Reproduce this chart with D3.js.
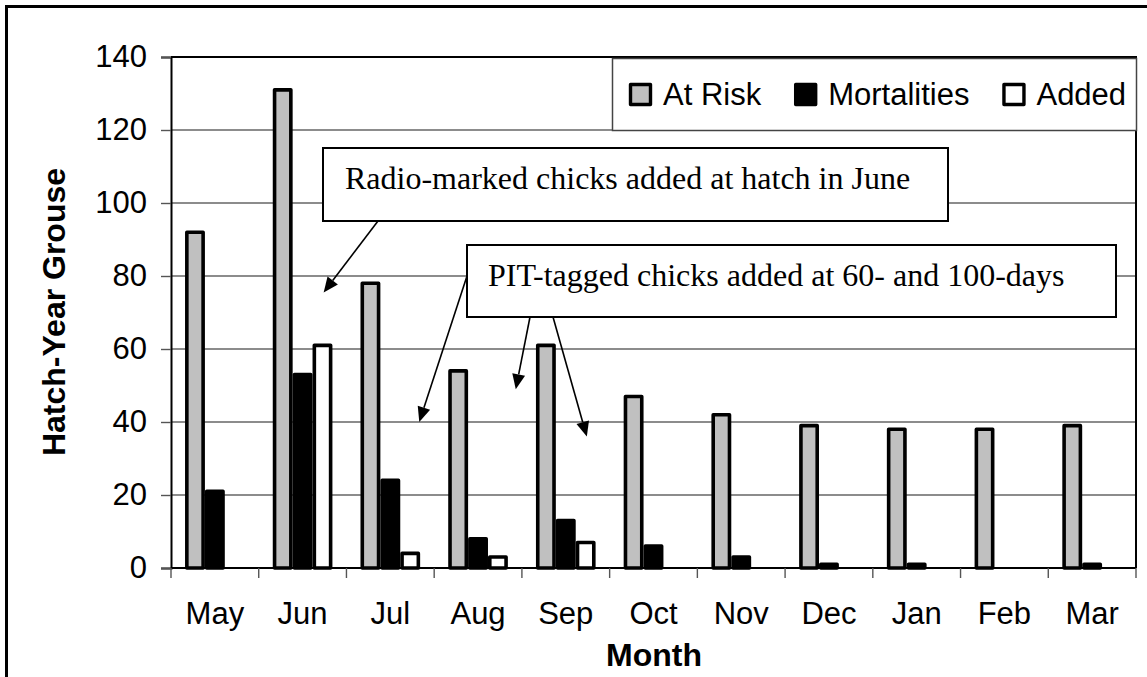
<!DOCTYPE html>
<html>
<head>
<meta charset="utf-8">
<script src="https://cdn.jsdelivr.net/npm/d3@7"></script>
<style>
  html, body { margin: 0; padding: 0; background: #fff; }
  svg { display: block; }
</style>
</head>
<body>
<svg id="chart" width="1147" height="677"></svg>
<script>
// hatch-year grouse by month
const months = ["May", "Jun", "Jul", "Aug", "Sep", "Oct", "Nov", "Dec", "Jan", "Feb", "Mar"];
const seriesNames = ["At Risk", "Mortalities", "Added"];
const atRisk = [92, 131, 78, 54, 61, 47, 42, 39, 38, 38, 39];
const mortalities = [21, 53, 24, 8, 13, 6, 3, 1, 1, 0, 1];
const added = [0, 61, 4, 3, 7, 0, 0, 0, 0, 0, 0];
const yTicks = [0, 20, 40, 60, 80, 100, 120, 140];

// callout boxes: text + where the arrows point (month, offset in band steps, value)
const notes = [
  "Radio-marked chicks added at hatch in June",
  "PIT-tagged chicks added at 60- and 100-days"
];
const arrowTargets = [
  { note: 0, month: "Jun", off: 0.58, value: 75.5 },
  { note: 1, month: "Jul", off: 0.67, value: 40 },
  { note: 1, month: "Aug", off: 0.77, value: 49 },
  { note: 1, month: "Sep", off: 0.58, value: 36 }
];

const svg = d3.select("#chart");
const W = 1147, H = 677;
const plot = { left: 171, right: 1136, top: 57, bottom: 568 };
const sans = "'Liberation Sans', Arial, sans-serif";
const serif = "'Liberation Serif', 'Times New Roman', serif";

svg.append("rect").attr("width", W).attr("height", H).attr("fill", "#fff");
// outer frame (runs off right and bottom of the picture)
svg.append("rect")
  .attr("x", 6.5).attr("y", 6.5)
  .attr("width", 1200).attr("height", 800)
  .attr("fill", "none").attr("stroke", "#000").attr("stroke-width", 3);

const y = d3.scaleLinear().domain([0, 140]).range([plot.bottom, plot.top]);
const x0 = d3.scaleBand().domain(months)
  .range([plot.left, plot.right])
  .paddingInner(0.32).paddingOuter(0.16);
const x1 = d3.scaleBand().domain(seriesNames).range([0, x0.bandwidth()]);

// gridlines
svg.append("g").selectAll("line")
  .data(yTicks.filter(d => d > 0 && d < 140))
  .join("line")
  .attr("x1", plot.left).attr("x2", plot.right)
  .attr("y1", d => y(d)).attr("y2", d => y(d))
  .attr("stroke", "#666").attr("stroke-width", 1.4);

// plot frame top / right
svg.append("path")
  .attr("d", `M${plot.left},${plot.top}H${plot.right}V${plot.bottom}`)
  .attr("fill", "none").attr("stroke", "#000").attr("stroke-width", 2);

// bars
const rows = months.map((m, i) => ({
  month: m,
  vals: [
    { s: "At Risk", v: atRisk[i], fill: "#c0c0c0" },
    { s: "Mortalities", v: mortalities[i], fill: "#000" },
    { s: "Added", v: added[i], fill: "#fff" }
  ]
}));
const sw = 3.6;
svg.append("g").selectAll("g")
  .data(rows)
  .join("g")
  .attr("transform", d => `translate(${x0(d.month)},0)`)
  .selectAll("rect")
  .data(d => d.vals.filter(b => b.v > 0))
  .join("rect")
  .attr("x", d => x1(d.s) + sw / 2)
  .attr("width", x1.bandwidth() - sw)
  .attr("y", d => y(d.v))
  .attr("height", d => y(0) - y(d.v))
  .attr("fill", d => d.fill)
  .attr("stroke", "#000")
  .attr("stroke-width", sw)
  .attr("stroke-linejoin", "round");

// y axis
const yAxis = svg.append("g")
  .attr("transform", `translate(${plot.left},0)`)
  .call(d3.axisLeft(y).tickValues(yTicks).tickSize(10).tickPadding(14));
yAxis.select(".domain").attr("stroke", "#000").attr("stroke-width", 2);
yAxis.selectAll(".tick line").attr("stroke", "#555").attr("stroke-width", 1.4);
yAxis.selectAll(".tick text")
  .attr("font-family", sans).attr("font-size", 31).attr("fill", "#000");

// x axis, ticks at band boundaries
const xAxis = svg.append("g")
  .attr("transform", `translate(0,${plot.bottom})`);
xAxis.append("line")
  .attr("x1", plot.left).attr("x2", plot.right)
  .attr("stroke", "#000").attr("stroke-width", 2);
const step = x0.step();
const edges = months.map(m => x0(m) - (step - x0.bandwidth()) / 2).concat([plot.right]);
xAxis.selectAll("line.tk")
  .data(edges)
  .join("line")
  .attr("class", "tk")
  .attr("x1", d => d).attr("x2", d => d)
  .attr("y1", 0).attr("y2", 10)
  .attr("stroke", "#555").attr("stroke-width", 1.4);
xAxis.selectAll("text")
  .data(months)
  .join("text")
  .attr("x", d => x0(d) + x0.bandwidth() / 2)
  .attr("y", 56)
  .attr("text-anchor", "middle")
  .attr("font-family", sans).attr("font-size", 31)
  .text(d => d);

// axis titles
svg.append("text")
  .attr("transform", "translate(65,312) rotate(-90)")
  .attr("text-anchor", "middle")
  .attr("font-family", sans).attr("font-size", 32).attr("font-weight", "bold")
  .text("Hatch-Year Grouse");
svg.append("text")
  .attr("x", 654).attr("y", 666)
  .attr("text-anchor", "middle")
  .attr("font-family", sans).attr("font-size", 32).attr("font-weight", "bold")
  .text("Month");

// legend
const leg = svg.append("g");
leg.append("rect")
  .attr("x", 612.5).attr("y", 58.5).attr("width", 524).attr("height", 72)
  .attr("fill", "#fff").attr("stroke", "#444").attr("stroke-width", 1.5);
const legFill = { "At Risk": "#c0c0c0", "Mortalities": "#000", "Added": "#fff" };
let lx = 629;
seriesNames.forEach(s => {
  leg.append("rect")
    .attr("x", lx + 1.5).attr("y", 84.5).attr("width", 20).attr("height", 20)
    .attr("fill", legFill[s]).attr("stroke", "#000").attr("stroke-width", 3.4)
    .attr("stroke-linejoin", "round");
  const t = leg.append("text")
    .attr("x", lx + 34).attr("y", 105)
    .attr("font-family", sans).attr("font-size", 31)
    .text(s);
  lx += 34 + t.node().getComputedTextLength() + 33;
});

// callout boxes
const boxes = [
  { x: 323, y: 148, w: 625, h: 73, tx: 345, ty: 189 },
  { x: 467, y: 245, w: 649, h: 72, tx: 488, ty: 286 }
];
const tails = [[378, 221], [467, 276], [530, 317], [553, 317]];

arrowTargets.forEach((a, i) => {
  const tx = x0(a.month) + a.off * step;
  const ty = y(a.value);
  const [sx, sy] = tails[i];
  const ang = Math.atan2(ty - sy, tx - sx);
  const L = 15, half = 6.5;
  const bx = tx - L * Math.cos(ang), by = ty - L * Math.sin(ang);
  svg.append("line")
    .attr("x1", sx).attr("y1", sy).attr("x2", bx).attr("y2", by)
    .attr("stroke", "#000").attr("stroke-width", 1.6);
  const pts = [
    [tx, ty],
    [bx + half * Math.sin(ang), by - half * Math.cos(ang)],
    [bx - half * Math.sin(ang), by + half * Math.cos(ang)]
  ];
  svg.append("polygon")
    .attr("points", pts.map(p => p.join(",")).join(" "))
    .attr("fill", "#000");
});

boxes.forEach((b, i) => {
  svg.append("rect")
    .attr("x", b.x).attr("y", b.y).attr("width", b.w).attr("height", b.h)
    .attr("fill", "#fff").attr("stroke", "#000").attr("stroke-width", 2);
  svg.append("text")
    .attr("x", b.tx).attr("y", b.ty)
    .attr("font-family", serif).attr("font-size", 32)
    .text(notes[i]);
});
</script>
</body>
</html>
